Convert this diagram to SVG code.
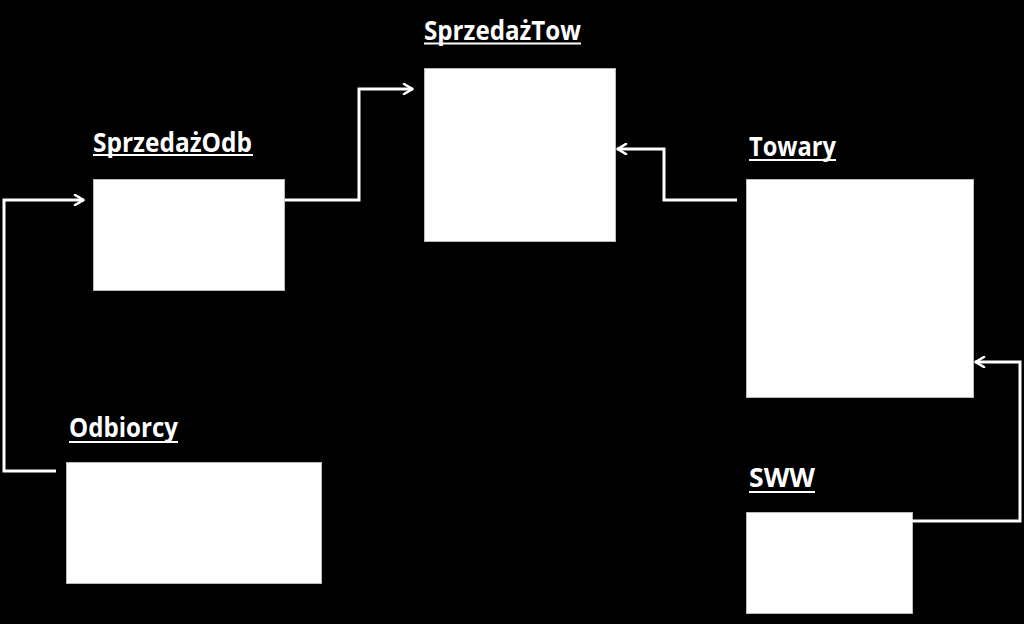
<svg xmlns="http://www.w3.org/2000/svg" width="1024" height="624" viewBox="0 0 1024 624">
<style>
.box{fill:#fff;stroke:#bbb;stroke-width:1}
.lbl{font-family:"Open Sans","Liberation Sans",sans-serif;font-weight:bold;font-size:26px;fill:#fff}
.ul{stroke:#fff;stroke-width:2.2}
.conn{fill:none;stroke:#fff;stroke-width:3}
</style>
<defs>
<marker id="arr" viewBox="0 0 12 12" refX="11" refY="6" markerWidth="12" markerHeight="12" markerUnits="userSpaceOnUse" orient="auto">
<path d="M2,1 L10.5,6 L2,11" fill="none" stroke="#fff" stroke-width="2.6" stroke-linecap="round" stroke-linejoin="round"/>
</marker>
</defs>
<rect width="1024" height="624" fill="#000"/>
<g id="SprzedazOdb">
<text class="lbl" x="93" y="152" textLength="159" lengthAdjust="spacingAndGlyphs">SprzedażOdb</text>
<line class="ul" x1="93" y1="155" x2="253" y2="155"/>
<rect class="box" x="93.5" y="179.5" width="191" height="111"/>
</g>
<g id="SprzedazTow">
<text class="lbl" x="424" y="40" textLength="157" lengthAdjust="spacingAndGlyphs">SprzedażTow</text>
<line class="ul" x1="424" y1="43.5" x2="581" y2="43.5"/>
<rect class="box" x="424.5" y="68.5" width="191" height="173"/>
</g>
<g id="Towary">
<text class="lbl" x="749" y="156" textLength="87" lengthAdjust="spacingAndGlyphs">Towary</text>
<line class="ul" x1="749" y1="160" x2="836" y2="160"/>
<rect class="box" x="746.5" y="179.5" width="227" height="218"/>
</g>
<g id="Odbiorcy">
<text class="lbl" x="69" y="437" textLength="109" lengthAdjust="spacingAndGlyphs">Odbiorcy</text>
<line class="ul" x1="69" y1="442" x2="178" y2="442"/>
<rect class="box" x="66.5" y="462.5" width="255" height="121"/>
</g>
<g id="SWW">
<text class="lbl" x="749" y="487" textLength="66" lengthAdjust="spacingAndGlyphs">SWW</text>
<line class="ul" x1="749" y1="492" x2="815" y2="492"/>
<rect class="box" x="746.5" y="512.5" width="166" height="101"/>
</g>
<g id="connectors">
<polyline class="conn" points="56,471 4,471 4,200 84,200" marker-end="url(#arr)"/>
<polyline class="conn" points="285,200 359,200 359,89 413,89" marker-end="url(#arr)"/>
<polyline class="conn" points="737,200 664,200 664,149 617,149" marker-end="url(#arr)"/>
<polyline class="conn" points="912,521 1020,521 1020,362 975,362" marker-end="url(#arr)"/>
</g>
</svg>
